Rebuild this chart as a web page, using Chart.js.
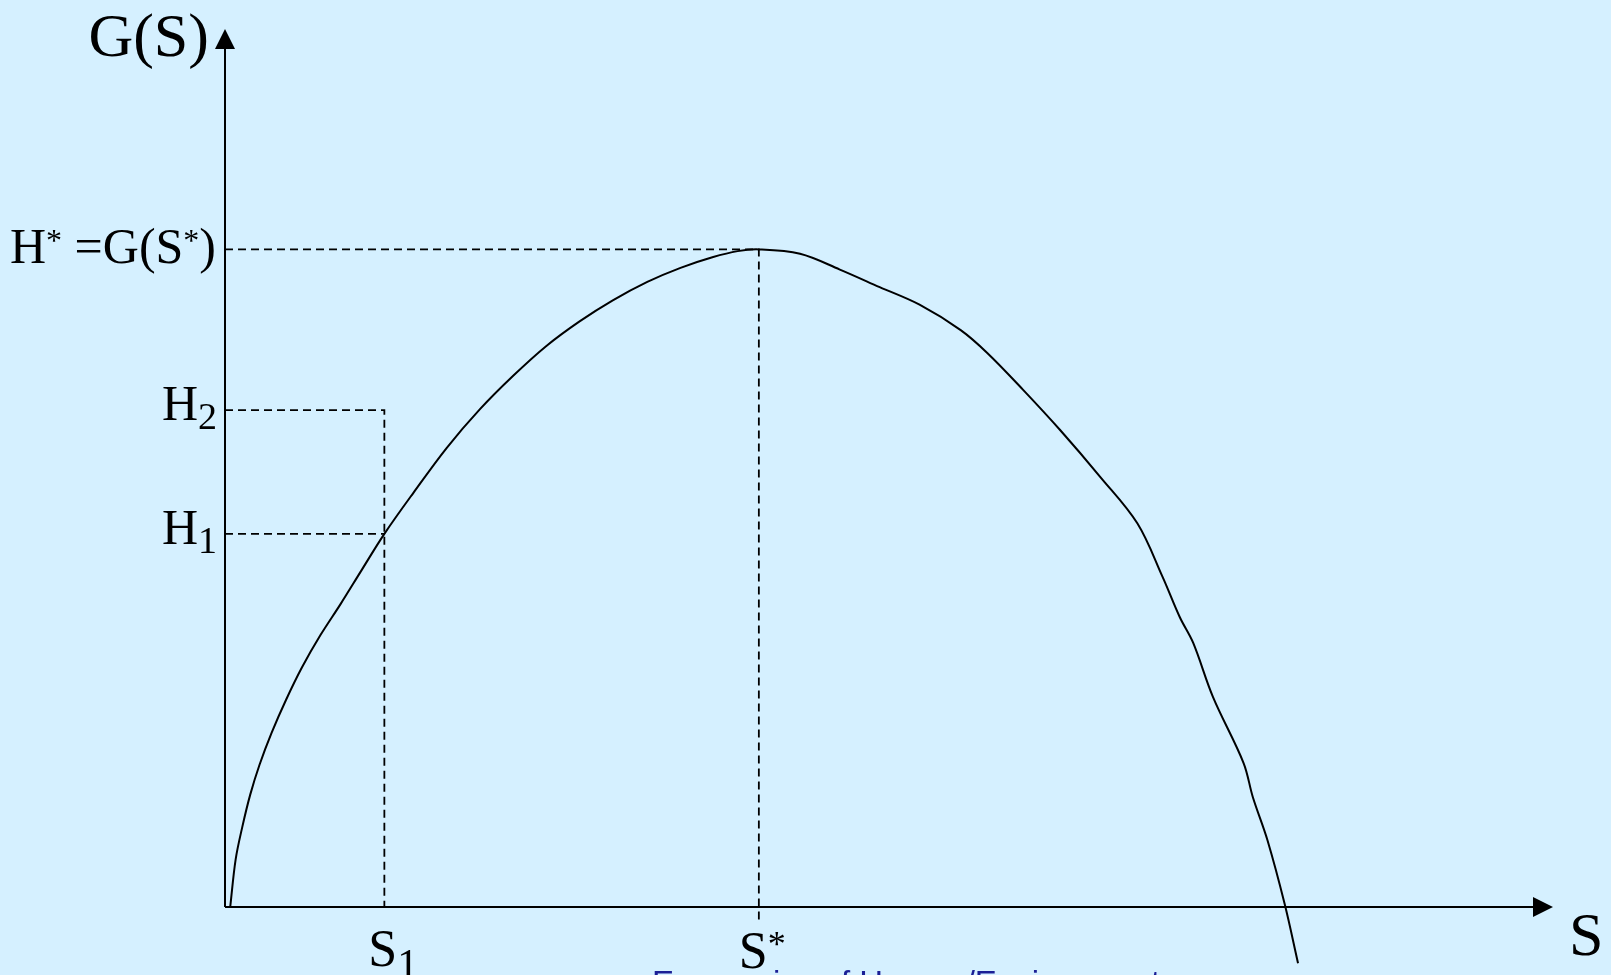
<!DOCTYPE html>
<html>
<head>
<meta charset="utf-8">
<title>G(S) growth curve</title>
<script src="https://cdn.jsdelivr.net/npm/chart.js@4.4.1/dist/chart.umd.min.js"></script>
<style>
    html, body { margin: 0; padding: 0; background: #D5F0FF; overflow: hidden; }
    #wrap { position: relative; width: 1611px; height: 975px; overflow: hidden; }
    #footer {
        position: absolute; left: 652px; top: 964px;
        font: 33px "Liberation Sans", Arial, sans-serif; color: #1b1f96;
        white-space: nowrap;
    }
</style>
</head>
<body>
<div id="wrap">
    <canvas id="chart" width="1611" height="975"></canvas>
    <div id="footer">Economics of Human/Environment</div>
</div>
<script>
// Stock S (x) and growth G(S) (y)
const curveS = [0.4, 0.8, 1.3, 1.9, 2.6, 3.5, 4.6, 5.8, 7.2, 8.7, 10.3, 12.0, 14.2, 16.7, 19.2, 21.7, 24.2, 26.7, 29.2, 31.8, 34.3, 36.7, 38.6, 40.2, 43.3, 46.3, 49.3, 52.3, 55.4, 57.4, 60.1, 62.9, 65.9, 68.7, 70.6, 71.9, 72.9, 74.4, 76.7, 77.4, 78.5, 79.8, 80.8];
const curveG = [0.1, 5.4, 9.1, 12.8, 16.2, 19.8, 23.6, 27.3, 31.0, 34.5, 38.4, 42.5, 47.2, 52.3, 56.7, 60.5, 63.9, 66.7, 69.1, 71.2, 72.8, 74.0, 74.7, 74.9, 74.4, 72.6, 70.6, 68.6, 65.7, 63.1, 58.9, 54.3, 49.0, 43.7, 37.6, 33.0, 30.1, 23.9, 16.4, 12.5, 7.6, 0.3, -6.4];

// marked levels
const S1 = 12.0;
const S_STAR = 40.2;
const H1 = 42.5;
const H2 = 56.6;
const H_STAR = 74.9;
const S_STAR_DROP = -1.7;   // dashed line under S* runs a little past the axis

const X_MAX = 100;
const Y_MAX = 100;

const SERIF = '"Liberation Serif", "Times New Roman", serif';

function pts(xs, ys) {
    return xs.map((x, i) => ({ x: x, y: ys[i] }));
}

// draw a run of text pieces [text, size, dy] starting / ending at x
function drawRich(ctx, parts, x, y, align) {
    let w = 0;
    parts.forEach(p => {
        ctx.font = p[1] + 'px ' + SERIF;
        w += ctx.measureText(p[0]).width;
    });
    let cx = align === 'right' ? x - w : x;
    ctx.textAlign = 'left';
    ctx.textBaseline = 'alphabetic';
    parts.forEach(p => {
        ctx.font = p[1] + 'px ' + SERIF;
        ctx.fillText(p[0], cx, y + (p[2] || 0));
        cx += ctx.measureText(p[0]).width;
    });
}

const axesAndLabels = {
    id: 'axesAndLabels',
    afterDatasetsDraw(chart) {
        const ctx = chart.ctx;
        const x = chart.scales.x, y = chart.scales.y;
        const x0 = x.getPixelForValue(0), y0 = y.getPixelForValue(0);
        const xEnd = x.getPixelForValue(X_MAX), yEnd = y.getPixelForValue(Y_MAX);

        ctx.save();
        ctx.strokeStyle = '#000';
        ctx.fillStyle = '#000';
        ctx.lineWidth = 2;
        ctx.setLineDash([]);

        // axes
        ctx.beginPath();
        ctx.moveTo(x0, y0); ctx.lineTo(x0, yEnd + 18);
        ctx.moveTo(x0, y0); ctx.lineTo(xEnd - 18, y0);
        ctx.stroke();

        // arrow heads
        ctx.beginPath();
        ctx.moveTo(x0, yEnd); ctx.lineTo(x0 - 10, yEnd + 20); ctx.lineTo(x0 + 10, yEnd + 20); ctx.closePath();
        ctx.moveTo(xEnd, y0); ctx.lineTo(xEnd - 20, y0 - 10); ctx.lineTo(xEnd - 20, y0 + 10); ctx.closePath();
        ctx.fill();

        // axis titles
        drawRich(ctx, [['G(S)', 62]], x0 - 16, yEnd + 27, 'right');
        drawRich(ctx, [['S', 62]], xEnd + 16, y0 + 48, 'left');

        // level labels on the G axis
        drawRich(ctx, [['H', 50], ['*', 32, -12], [' =G(S', 50], ['*', 32, -12], [')', 50]], x0 - 9, y.getPixelForValue(H_STAR) + 14, 'right');
        drawRich(ctx, [['H', 50], ['2', 38, 9]], x0 - 8, y.getPixelForValue(H2) + 10, 'right');
        drawRich(ctx, [['H', 50], ['1', 38, 9]], x0 - 8, y.getPixelForValue(H1) + 10, 'right');

        // stock labels on the S axis
        drawRich(ctx, [['S', 52], ['1', 42, 12]], x.getPixelForValue(S1) - 16, y0 + 59, 'left');
        drawRich(ctx, [['S', 52], ['*', 36, -12]], x.getPixelForValue(S_STAR) - 20, y0 + 61, 'left');

        ctx.restore();
    }
};

const guide = {
    borderColor: '#000',
    borderWidth: 1.8,
    borderDash: [8, 5],
    pointRadius: 0,
    showLine: true,
    fill: false,
    clip: false
};

new Chart(document.getElementById('chart'), {
    type: 'scatter',
    data: {
        datasets: [
            {
                label: 'G(S)',
                data: pts(curveS, curveG),
                borderColor: '#000',
                borderWidth: 2,
                pointRadius: 0,
                showLine: true,
                tension: 0.35,
                fill: false,
                clip: false
            },
            Object.assign({ label: 'H*', data: [{ x: 0, y: H_STAR }, { x: S_STAR, y: H_STAR }, { x: S_STAR, y: S_STAR_DROP }] }, guide),
            Object.assign({ label: 'H2', data: [{ x: 0, y: H2 }, { x: S1, y: H2 }, { x: S1, y: 0 }] }, guide),
            Object.assign({ label: 'H1', data: [{ x: 0, y: H1 }, { x: S1, y: H1 }] }, guide)
        ]
    },
    options: {
        responsive: false,
        animation: false,
        layout: { padding: { left: 225, right: 58, top: 29, bottom: 68 } },
        plugins: {
            legend: { display: false },
            tooltip: { enabled: false }
        },
        scales: {
            x: { type: 'linear', min: 0, max: X_MAX, display: false },
            y: { type: 'linear', min: 0, max: Y_MAX, display: false }
        }
    },
    plugins: [axesAndLabels]
});
</script>
</body>
</html>
